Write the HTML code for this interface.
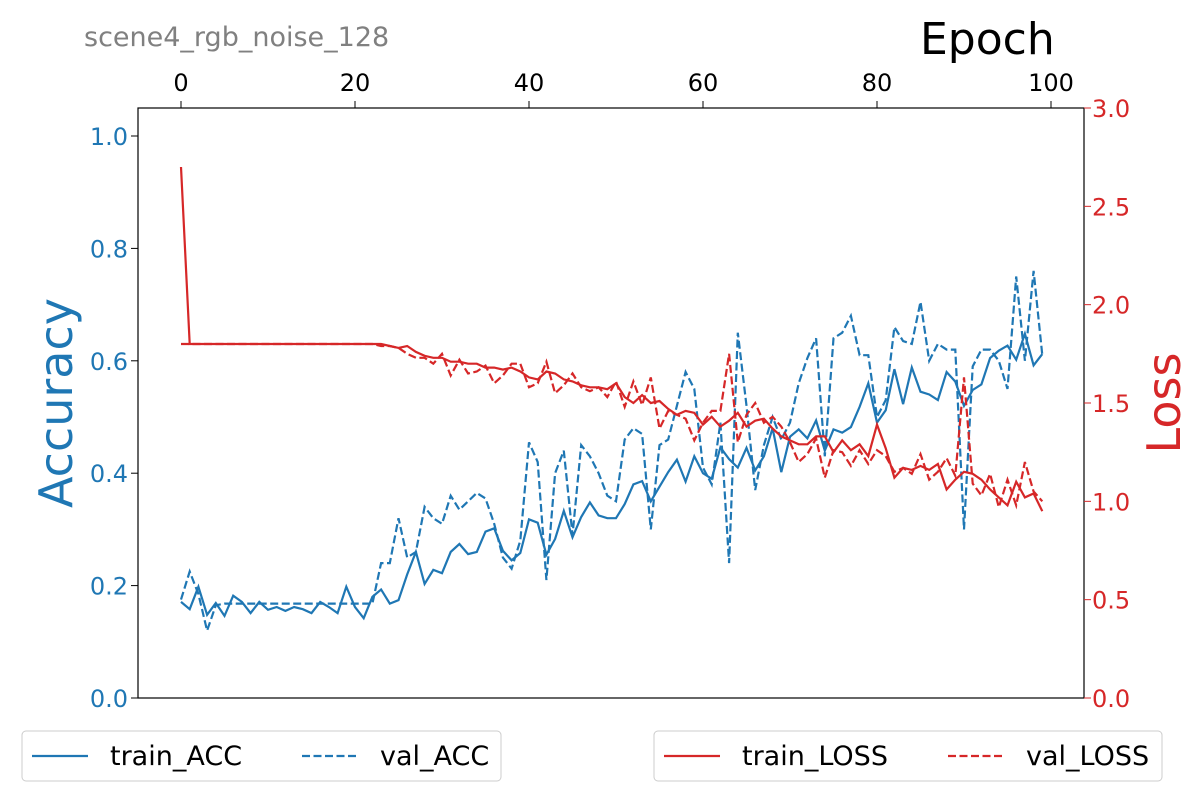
<!DOCTYPE html>
<html><head><meta charset="utf-8"><style>
body{margin:0;background:#fff;font-family:"Liberation Sans","DejaVu Sans",sans-serif}
svg text{font-family:"DejaVu Sans","Liberation Sans",sans-serif}
</style></head><body>
<svg id="c" width="1200" height="800"></svg>
<script>
const epochs=[...Array(100).keys()];
const trainAcc=[0.171,0.158,0.198,0.148,0.169,0.146,0.182,0.171,0.151,0.171,0.157,0.162,0.155,0.162,0.158,0.151,0.171,0.162,0.151,0.198,0.162,0.142,0.180,0.193,0.168,0.174,0.22,0.26,0.203,0.228,0.222,0.26,0.274,0.256,0.26,0.296,0.302,0.262,0.245,0.258,0.318,0.312,0.255,0.283,0.333,0.286,0.322,0.348,0.325,0.32,0.32,0.345,0.38,0.386,0.35,0.376,0.402,0.424,0.385,0.43,0.4,0.39,0.446,0.425,0.41,0.445,0.405,0.43,0.48,0.402,0.465,0.478,0.462,0.494,0.44,0.478,0.472,0.482,0.518,0.56,0.49,0.512,0.585,0.523,0.588,0.545,0.54,0.53,0.58,0.563,0.52,0.548,0.558,0.605,0.618,0.627,0.602,0.648,0.592,0.612];
const valAcc=[0.175,0.225,0.185,0.12,0.165,0.168,0.168,0.168,0.168,0.168,0.168,0.168,0.168,0.168,0.168,0.168,0.168,0.168,0.168,0.168,0.168,0.168,0.168,0.24,0.24,0.32,0.25,0.26,0.34,0.32,0.31,0.36,0.335,0.35,0.365,0.355,0.31,0.25,0.23,0.28,0.455,0.42,0.21,0.4,0.44,0.29,0.45,0.43,0.4,0.36,0.35,0.46,0.48,0.47,0.3,0.45,0.46,0.52,0.58,0.55,0.41,0.38,0.49,0.24,0.65,0.52,0.37,0.45,0.5,0.46,0.49,0.56,0.605,0.64,0.43,0.64,0.65,0.68,0.61,0.61,0.5,0.53,0.66,0.635,0.63,0.705,0.6,0.63,0.62,0.62,0.3,0.59,0.62,0.62,0.6,0.55,0.75,0.6,0.76,0.61];
const trainLoss=[2.70,1.80,1.80,1.80,1.80,1.80,1.80,1.80,1.80,1.80,1.80,1.80,1.80,1.80,1.80,1.80,1.80,1.80,1.80,1.80,1.80,1.80,1.80,1.80,1.79,1.78,1.79,1.76,1.74,1.73,1.73,1.71,1.71,1.70,1.70,1.68,1.68,1.67,1.68,1.66,1.63,1.62,1.66,1.65,1.62,1.61,1.59,1.58,1.58,1.57,1.60,1.53,1.50,1.54,1.50,1.51,1.47,1.44,1.46,1.45,1.39,1.43,1.38,1.41,1.45,1.38,1.41,1.42,1.37,1.33,1.31,1.29,1.29,1.33,1.33,1.25,1.31,1.26,1.29,1.23,1.39,1.27,1.12,1.17,1.16,1.18,1.16,1.19,1.06,1.11,1.15,1.14,1.11,1.06,1.02,0.98,1.10,1.02,1.04,0.95];
const valLoss=[1.80,1.80,1.80,1.80,1.80,1.80,1.80,1.80,1.80,1.80,1.80,1.80,1.80,1.80,1.80,1.80,1.80,1.80,1.80,1.80,1.80,1.80,1.80,1.79,1.79,1.78,1.75,1.73,1.73,1.70,1.75,1.64,1.72,1.65,1.66,1.69,1.60,1.64,1.70,1.70,1.58,1.60,1.71,1.55,1.59,1.65,1.58,1.56,1.58,1.53,1.61,1.48,1.61,1.49,1.63,1.37,1.46,1.44,1.42,1.31,1.40,1.46,1.46,1.75,1.30,1.44,1.50,1.40,1.43,1.38,1.30,1.20,1.24,1.32,1.12,1.26,1.25,1.18,1.26,1.19,1.26,1.23,1.15,1.17,1.14,1.24,1.11,1.15,1.22,1.13,1.63,1.09,1.03,1.14,0.97,1.11,0.98,1.20,1.05,1.00];
const xTicks=[0,20,40,60,80,100];
const accTicks=[0.0,0.2,0.4,0.6,0.8,1.0];
const lossTicks=[0.0,0.5,1.0,1.5,2.0,2.5,3.0];

const NS='http://www.w3.org/2000/svg',svg=document.getElementById('c');
const L=138,R=1084,T=108,B=698;
const X=v=>181+v*8.7, YA=v=>B-v*562, YL=v=>B-v*(B-T)/3;
const BLUE='#1f77b4',RED='#d62728';
function mk(tag,attrs,name,txt){const e=document.createElementNS(NS,tag);for(const k in attrs)e.setAttribute(k,attrs[k]);


if(txt!==undefined)e.textContent=txt;svg.appendChild(e);return e;}
mk('rect',{x:L,y:T,width:R-L,height:B-T,fill:'none',stroke:'#000','stroke-width':1.2},'plot-frame');
xTicks.forEach(t=>{mk('line',{x1:X(t),x2:X(t),y1:T,y2:T-7,stroke:'#000'},'x-tick');
mk('text',{x:X(t),y:91,'font-size':24,'text-anchor':'middle'},'x-tick-label',t);});
accTicks.forEach(t=>{mk('line',{x1:L,x2:L-7,y1:YA(t),y2:YA(t),stroke:'#000'},'acc-tick');
mk('text',{x:128,y:YA(t)+9,'font-size':24,'text-anchor':'end',fill:BLUE},'acc-tick-label',t.toFixed(1));});
lossTicks.forEach(t=>{mk('line',{x1:R,x2:R+7,y1:YL(t),y2:YL(t),stroke:RED},'loss-tick');
mk('text',{x:1092,y:YL(t)+9,'font-size':24,'text-anchor':'start',fill:RED},'loss-tick-label',t.toFixed(1));});
mk('text',{x:84,y:46,'font-size':27,fill:'#808080'},'chart-title','scene4_rgb_noise_128');
mk('text',{x:920,y:54,'font-size':44},'x-axis-title','Epoch');
mk('text',{x:72,y:403,'font-size':46,fill:BLUE,'text-anchor':'middle',transform:'rotate(-90 72 403)'},'acc-axis-title','Accuracy');
mk('text',{x:1180,y:403,'font-size':46,fill:RED,'text-anchor':'middle',transform:'rotate(-90 1180 403)'},'loss-axis-title','Loss');
function line(d,Y,c,dash,name){const p=d.map((v,i)=>X(epochs[i]).toFixed(1)+','+Y(v).toFixed(1)).join(' ');
const a={points:p,fill:'none',stroke:c,'stroke-width':2.2};if(dash)a['stroke-dasharray']='8,3.5';mk('polyline',a,name);}
line(trainAcc,YA,BLUE,false,'train-acc-line');line(valAcc,YA,BLUE,true,'val-acc-line');
line(trainLoss,YL,RED,false,'train-loss-line');line(valLoss,YL,RED,true,'val-loss-line');
mk('rect',{x:22,y:731,width:479,height:50,rx:4,fill:'#fff',stroke:'#ccc'},'acc-legend');
mk('line',{x1:32,x2:88,y1:756,y2:756,stroke:BLUE,'stroke-width':2.2},'legend-train-acc-swatch');
mk('text',{x:110,y:765,'font-size':27},'legend-train-acc','train_ACC');
mk('line',{x1:302,x2:358,y1:756,y2:756,stroke:BLUE,'stroke-width':2.2,'stroke-dasharray':'8,3.5'},'legend-val-acc-swatch');
mk('text',{x:380,y:765,'font-size':27},'legend-val-acc','val_ACC');
mk('rect',{x:654,y:731,width:508,height:50,rx:4,fill:'#fff',stroke:'#ccc'},'loss-legend');
mk('line',{x1:664,x2:720,y1:756,y2:756,stroke:RED,'stroke-width':2.2},'legend-train-loss-swatch');
mk('text',{x:742,y:765,'font-size':27},'legend-train-loss','train_LOSS');
mk('line',{x1:948,x2:1004,y1:756,y2:756,stroke:RED,'stroke-width':2.2,'stroke-dasharray':'8,3.5'},'legend-val-loss-swatch');
mk('text',{x:1026,y:765,'font-size':27},'legend-val-loss','val_LOSS');
</script>
</body></html>
